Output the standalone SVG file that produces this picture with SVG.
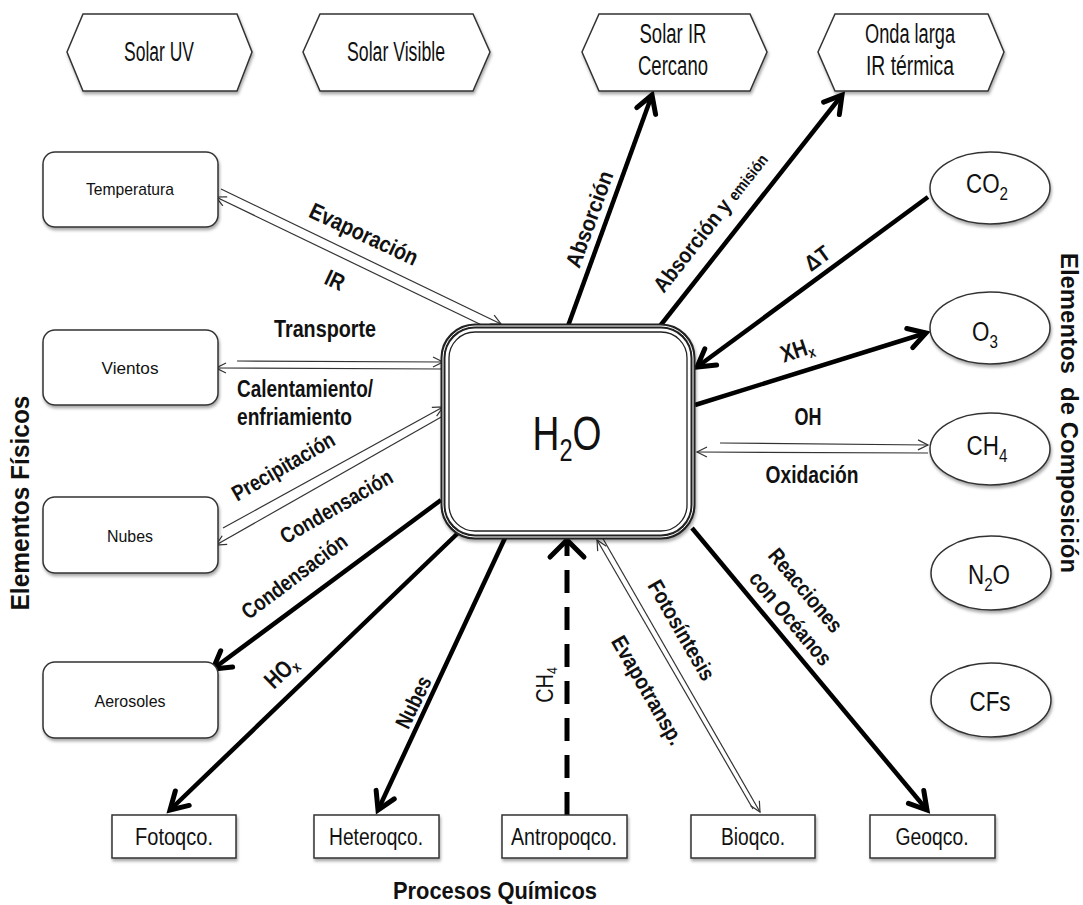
<svg xmlns="http://www.w3.org/2000/svg" width="1083" height="905" viewBox="0 0 1083 905">
<defs>
<style>
.shape{fill:#fff;stroke:#333;stroke-width:1.5}
.nt{font-family:"Liberation Sans",Arial,sans-serif;fill:#111;text-anchor:middle}
.lb{font-family:"Liberation Sans",Arial,sans-serif;font-weight:bold;fill:#111;text-anchor:middle}
.thick{stroke:#000;stroke-width:4.5;fill:none;marker-end:url(#ah)}
.thinA{stroke:#333;stroke-width:1.2;fill:none;marker-end:url(#ta)}
</style>
<marker id="ah" markerUnits="userSpaceOnUse" markerWidth="30" markerHeight="30" refX="0" refY="0" orient="auto" overflow="visible">
<path d="M-17,-10 L0,0 L-17,10" fill="none" stroke="#000" stroke-width="5" stroke-linecap="round"/>
</marker>
<marker id="ta" markerUnits="userSpaceOnUse" markerWidth="20" markerHeight="20" refX="0" refY="0" orient="auto" overflow="visible">
<path d="M-10,-5 L0,0 L-10,5" fill="none" stroke="#333" stroke-width="1.2"/>
</marker>
<filter id="sh" x="-10%" y="-10%" width="125%" height="140%">
<feDropShadow dx="1" dy="2.5" stdDeviation="1.4" flood-color="#000" flood-opacity="0.35"/>
</filter>
</defs>
<rect width="1083" height="905" fill="#fff"/>

<g id="connectors">
<line class="thick" x1="568" y1="326" x2="652" y2="95"/>
<line class="thick" x1="660" y1="326" x2="842" y2="95"/>
<line class="thick" x1="928" y1="197" x2="697" y2="367"/>
<line class="thick" x1="695" y1="405" x2="926" y2="333"/>
<line class="thick" x1="692" y1="528" x2="927" y2="810"/>
<line class="thick" x1="505" y1="538" x2="378" y2="810"/>
<line class="thick" x1="458" y1="533" x2="170" y2="810"/>
<line class="thick" x1="441" y1="500" x2="213" y2="669"/>
<line x1="567" y1="815" x2="567" y2="542" stroke="#000" stroke-width="5" stroke-dasharray="23 14" fill="none"/>
<path d="M550,557 L567,540 L584,557" fill="none" stroke="#000" stroke-width="5" stroke-linecap="round"/>
<line class="thinA" x1="221" y1="189" x2="501" y2="324"/>
<line class="thinA" x1="492" y1="330" x2="216" y2="197"/>
<line class="thinA" x1="237" y1="361" x2="443" y2="362"/>
<line class="thinA" x1="443" y1="369" x2="216" y2="368"/>
<line class="thinA" x1="223" y1="528" x2="443" y2="407"/>
<line class="thinA" x1="443" y1="416" x2="216" y2="545"/>
<line class="thinA" x1="720" y1="443" x2="928" y2="445"/>
<line class="thinA" x1="928" y1="453" x2="697" y2="452"/>
<line class="thinA" x1="602" y1="537" x2="760" y2="812"/>
<line class="thinA" x1="753" y1="809" x2="597" y2="540"/>
</g>

<g id="n-solar-uv">
<polygon class="shape" filter="url(#sh)" points="67,52 83,14 237,14 252,52 237,91 83,91"/>
<text class="nt" x="159" y="61" font-size="27" textLength="70" lengthAdjust="spacingAndGlyphs">Solar UV</text>
</g>
<g id="n-solar-visible">
<polygon class="shape" filter="url(#sh)" points="303,52 320,14 473,14 490,52 473,91 320,91"/>
<text class="nt" x="396" y="61" font-size="27" textLength="98" lengthAdjust="spacingAndGlyphs">Solar Visible</text>
</g>
<g id="n-solar-ir">
<polygon class="shape" filter="url(#sh)" points="582,52 599,14 750,14 767,52 750,91 599,91"/>
<text class="nt" x="673" y="43" font-size="27" textLength="67" lengthAdjust="spacingAndGlyphs">Solar IR</text>
<text class="nt" x="673" y="75" font-size="27" textLength="70" lengthAdjust="spacingAndGlyphs">Cercano</text>
</g>
<g id="n-onda-larga">
<polygon class="shape" filter="url(#sh)" points="818,52 835,14 988,14 1004,52 988,91 835,91"/>
<text class="nt" x="910" y="43" font-size="27" textLength="90" lengthAdjust="spacingAndGlyphs">Onda larga</text>
<text class="nt" x="910" y="75" font-size="27" textLength="88" lengthAdjust="spacingAndGlyphs">IR térmica</text>
</g>

<g id="n-temperatura">
<rect class="shape" filter="url(#sh)" x="43" y="152" width="175" height="75" rx="12"/>
<text class="nt" x="130" y="195" font-size="17" textLength="88" lengthAdjust="spacingAndGlyphs">Temperatura</text>
</g>
<g id="n-vientos">
<rect class="shape" filter="url(#sh)" x="43" y="330" width="175" height="75" rx="12"/>
<text class="nt" x="130" y="374" font-size="17" textLength="57" lengthAdjust="spacingAndGlyphs">Vientos</text>
</g>
<g id="n-nubes">
<rect class="shape" filter="url(#sh)" x="43" y="497" width="175" height="76" rx="12"/>
<text class="nt" x="130" y="542" font-size="17" textLength="46" lengthAdjust="spacingAndGlyphs">Nubes</text>
</g>
<g id="n-aerosoles">
<rect class="shape" filter="url(#sh)" x="43" y="662" width="175" height="76" rx="12"/>
<text class="nt" x="130" y="707" font-size="17" textLength="71" lengthAdjust="spacingAndGlyphs">Aerosoles</text>
</g>

<g id="n-h2o">
<rect x="443" y="326" width="250" height="211" rx="32" fill="#fff" stroke="#222" stroke-width="5" filter="url(#sh)"/>
<rect x="443" y="326" width="250" height="211" rx="32" fill="none" stroke="#fff" stroke-width="1"/>
<rect x="449" y="332" width="238" height="199" rx="26" fill="none" stroke="#222" stroke-width="1.3"/>
<text class="nt" transform="translate(567,450) scale(0.76,1)" font-size="49">H<tspan font-size="31" dy="11">2</tspan><tspan dy="-11">O</tspan></text>
</g>

<g id="n-co2">
<ellipse class="shape" filter="url(#sh)" cx="990" cy="188" rx="60" ry="36"/>
<text class="nt" transform="translate(987,193) scale(0.8,1)" font-size="28">CO<tspan font-size="19" dy="7">2</tspan></text>
</g>
<g id="n-o3">
<ellipse class="shape" filter="url(#sh)" cx="990" cy="328" rx="60" ry="36"/>
<text class="nt" transform="translate(985,341) scale(0.8,1)" font-size="28">O<tspan font-size="19" dy="7">3</tspan></text>
</g>
<g id="n-ch4">
<ellipse class="shape" filter="url(#sh)" cx="990" cy="449" rx="60" ry="36"/>
<text class="nt" transform="translate(987,455) scale(0.8,1)" font-size="28">CH<tspan font-size="19" dy="7">4</tspan></text>
</g>
<g id="n-n2o">
<ellipse class="shape" filter="url(#sh)" cx="991" cy="573" rx="60" ry="37"/>
<text class="nt" transform="translate(989,584) scale(0.8,1)" font-size="28">N<tspan font-size="19" dy="7">2</tspan><tspan dy="-7">O</tspan></text>
</g>
<g id="n-cfs">
<ellipse class="shape" filter="url(#sh)" cx="991" cy="700" rx="60" ry="37"/>
<text class="nt" transform="translate(990,711) scale(0.8,1)" font-size="28">CFs</text>
</g>

<g id="n-fotoqco">
<rect class="shape" filter="url(#sh)" x="112" y="815" width="124" height="43"/>
<text class="nt" x="174" y="845" font-size="23" textLength="78" lengthAdjust="spacingAndGlyphs">Fotoqco.</text>
</g>
<g id="n-heteroqco">
<rect class="shape" filter="url(#sh)" x="314" y="815" width="125" height="43"/>
<text class="nt" x="376" y="845" font-size="23" textLength="94" lengthAdjust="spacingAndGlyphs">Heteroqco.</text>
</g>
<g id="n-antropoqco">
<rect class="shape" filter="url(#sh)" x="502" y="815" width="125" height="43"/>
<text class="nt" x="564" y="845" font-size="23" textLength="106" lengthAdjust="spacingAndGlyphs">Antropoqco.</text>
</g>
<g id="n-bioqco">
<rect class="shape" filter="url(#sh)" x="691" y="815" width="124" height="43"/>
<text class="nt" x="753" y="845" font-size="23" textLength="64" lengthAdjust="spacingAndGlyphs">Bioqco.</text>
</g>
<g id="n-geoqco">
<rect class="shape" filter="url(#sh)" x="870" y="815" width="125" height="43"/>
<text class="nt" x="932" y="845" font-size="23" textLength="73" lengthAdjust="spacingAndGlyphs">Geoqco.</text>
</g>

<g id="labels">
<text class="lb" transform="translate(364,234) rotate(25)" y="8" font-size="23" textLength="117" lengthAdjust="spacingAndGlyphs">Evaporación</text>
<text class="lb" transform="translate(335,280) rotate(25)" y="8" font-size="23" textLength="19" lengthAdjust="spacingAndGlyphs">IR</text>
<text class="lb" x="325" y="337" font-size="23" textLength="102" lengthAdjust="spacingAndGlyphs">Transporte</text>
<text class="lb" x="237" y="397" font-size="23" style="text-anchor:start" textLength="136" lengthAdjust="spacingAndGlyphs">Calentamiento/</text>
<text class="lb" x="237" y="425" font-size="23" style="text-anchor:start" textLength="115" lengthAdjust="spacingAndGlyphs">enfriamiento</text>
<text class="lb" transform="translate(283,466) rotate(-30)" y="8" font-size="22" textLength="115" lengthAdjust="spacingAndGlyphs">Precipitación</text>
<text class="lb" transform="translate(336,506) rotate(-30)" y="8" font-size="22" textLength="126" lengthAdjust="spacingAndGlyphs">Condensación</text>
<text class="lb" transform="translate(294,576) rotate(-37)" y="8" font-size="22" textLength="126" lengthAdjust="spacingAndGlyphs">Condensación</text>
<text class="lb" transform="translate(281,672) rotate(-44) scale(0.8,1)" y="8" font-size="24">HO<tspan font-size="15" dy="4">x</tspan></text>
<text class="lb" transform="translate(413,702) rotate(-64)" y="8" font-size="22" textLength="55" lengthAdjust="spacingAndGlyphs">Nubes</text>
<text class="nt" transform="translate(545,685) rotate(-90) scale(0.83,1)" y="8" font-size="24">CH<tspan font-size="15" dy="4">4</tspan></text>
<text class="lb" transform="translate(682,630) rotate(60)" y="8" font-size="22" textLength="112" lengthAdjust="spacingAndGlyphs">Fotosíntesis</text>
<text class="lb" transform="translate(648,690) rotate(60)" y="8" font-size="22" textLength="122" lengthAdjust="spacingAndGlyphs">Evapotransp.</text>
<text class="lb" transform="translate(806,590) rotate(50)" y="8" font-size="22" textLength="102" lengthAdjust="spacingAndGlyphs">Reacciones</text>
<text class="lb" transform="translate(791,618) rotate(50)" y="8" font-size="22" textLength="115" lengthAdjust="spacingAndGlyphs">con Océanos</text>
<text class="lb" x="808" y="425" font-size="23" textLength="27" lengthAdjust="spacingAndGlyphs">OH</text>
<text class="lb" x="812" y="483" font-size="23" textLength="93" lengthAdjust="spacingAndGlyphs">Oxidación</text>
<text class="lb" transform="translate(797,350) rotate(-18) scale(0.8,1)" y="8" font-size="24">XH<tspan font-size="15" dy="4">x</tspan></text>
<text class="lb" transform="translate(817,258) rotate(-36) scale(0.9,1)" y="8" font-size="22">ΔT</text>
<text class="lb" transform="translate(589,219) rotate(-70)" y="8" font-size="22" textLength="101" lengthAdjust="spacingAndGlyphs">Absorción</text>
<text class="lb" transform="translate(710,222) rotate(-52) scale(0.88,1)" y="8" font-size="22">Absorción y <tspan font-size="16">emisión</tspan></text>
<text class="lb" transform="translate(20,503) rotate(-90)" y="9" font-size="26" textLength="215" lengthAdjust="spacingAndGlyphs">Elementos Físicos</text>
<text class="lb" transform="translate(1069,413) rotate(90)" y="8" font-size="24" textLength="320" lengthAdjust="spacingAndGlyphs" xml:space="preserve">Elementos  de Composición</text>
<text class="lb" x="495" y="899" font-size="23" textLength="204" lengthAdjust="spacingAndGlyphs">Procesos Químicos</text>
</g>
</svg>
